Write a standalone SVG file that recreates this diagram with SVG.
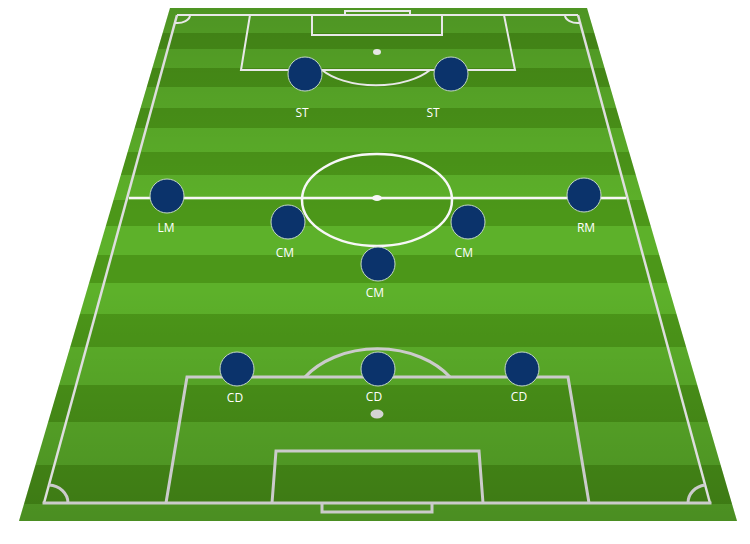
<svg xmlns="http://www.w3.org/2000/svg" width="750" height="544" viewBox="0 0 750 544">
<defs>
<clipPath id="pitchClip"><polygon points="170,8 587,8 737,521 19,521"/></clipPath>
<linearGradient id="shade" x1="0" y1="0" x2="0" y2="1">
<stop offset="0" stop-color="#000" stop-opacity="0.16"/>
<stop offset="0.4" stop-color="#000" stop-opacity="0"/>
<stop offset="0.55" stop-color="#000" stop-opacity="0"/>
<stop offset="1" stop-color="#000" stop-opacity="0.2"/>
</linearGradient>
<style>
.l{fill:#5db12a}
.d{fill:#4c9719}
.ln{fill:none;stroke:#dedede;stroke-width:2.5;stroke-linejoin:miter}
.lt{fill:none;stroke:#e8e8e8;stroke-width:2}
.lm{fill:none;stroke:#f7f7f7;stroke-width:2.5}
.lb{fill:none;stroke:#cbcbcb;stroke-width:3}
.spot{fill:#e6e6e6}
.pl{fill:#0b336b;stroke:#c4d8c4;stroke-width:1}
.lab{font-family:"Open Sans","Liberation Sans",sans-serif;font-size:12px;fill:#ffffff;text-anchor:middle}
</style>
</defs>
<rect width="750" height="544" fill="#ffffff"/>
<g id="pitch">
<g clip-path="url(#pitchClip)">
<rect class="l" x="0" y="8" width="750" height="25"/>
<rect class="d" x="0" y="33" width="750" height="16"/>
<rect class="l" x="0" y="49" width="750" height="19"/>
<rect class="d" x="0" y="68" width="750" height="19"/>
<rect class="l" x="0" y="87" width="750" height="21"/>
<rect class="d" x="0" y="108" width="750" height="20"/>
<rect class="l" x="0" y="128" width="750" height="24"/>
<rect class="d" x="0" y="152" width="750" height="23"/>
<rect class="l" x="0" y="175" width="750" height="25"/>
<rect class="d" x="0" y="200" width="750" height="26"/>
<rect class="l" x="0" y="226" width="750" height="29"/>
<rect class="d" x="0" y="255" width="750" height="28"/>
<rect class="l" x="0" y="283" width="750" height="31"/>
<rect class="d" x="0" y="314" width="750" height="33"/>
<rect class="l" x="0" y="347" width="750" height="38"/>
<rect class="d" x="0" y="385" width="750" height="37"/>
<rect class="l" x="0" y="422" width="750" height="43"/>
<rect class="d" x="0" y="465" width="750" height="39"/>
<rect class="l" x="0" y="504" width="750" height="17"/>
<rect x="0" y="8" width="750" height="513" fill="url(#shade)"/>
</g>
<line class="lt" x1="177" y1="15" x2="578" y2="15"/>
<line class="ln" x1="177" y1="15" x2="44" y2="503"/>
<line class="ln" x1="578" y1="15" x2="710" y2="503"/>
<line class="lb" x1="42.5" y1="503" x2="711.5" y2="503"/>
<polyline class="lt" points="250,15 241,70 515,70 504,15"/>
<polyline class="lt" points="312,15 312,35 442,35 442,15"/>
<polyline class="lt" points="345,15 345,11 410,11 410,15"/>
<path class="lt" d="M322,70 A64,33 0 0 0 430,70"/>
<ellipse class="spot" cx="377" cy="52" rx="4" ry="3"/>
<path class="lt" d="M190,15 A13,8 0 0 1 175,23"/>
<path class="lt" d="M565,15 A13,8 0 0 0 580,23"/>
<line class="lm" x1="129" y1="198" x2="626" y2="198"/>
<ellipse class="lm" cx="377" cy="200" rx="75" ry="46"/>
<ellipse fill="#f7f7f7" cx="377" cy="198" rx="5" ry="3"/>
<polyline class="lb" points="166,503 187,377 568,377 589,503"/>
<polyline class="lb" points="272,503 276,451 479,451 483,503"/>
<polyline class="lb" points="322,503 322,512 432,512 432,503"/>
<path class="lb" d="M305,377 A88,65 0 0 1 450,377"/>
<ellipse fill="#d4d4d4" cx="377" cy="414" rx="6.5" ry="4.5"/>
<path class="lb" d="M49,485 A20,18 0 0 1 68,503"/>
<path class="lb" d="M688,503 A20,18 0 0 1 705,485"/>
</g>
<g id="connectors"></g>
<g id="st-left"><circle class="pl" cx="305" cy="74" r="17"/><text class="lab" x="302" y="117">ST</text></g>
<g id="st-right"><circle class="pl" cx="451" cy="74" r="17"/><text class="lab" x="433" y="117">ST</text></g>
<g id="lm"><circle class="pl" cx="167" cy="196" r="17"/><text class="lab" x="166" y="232">LM</text></g>
<g id="rm"><circle class="pl" cx="584" cy="195" r="17"/><text class="lab" x="586" y="232">RM</text></g>
<g id="cm-left"><circle class="pl" cx="288" cy="222" r="17"/><text class="lab" x="285" y="257">CM</text></g>
<g id="cm-right"><circle class="pl" cx="468" cy="222" r="17"/><text class="lab" x="464" y="257">CM</text></g>
<g id="cm-center"><circle class="pl" cx="378" cy="264" r="17"/><text class="lab" x="375" y="297">CM</text></g>
<g id="cd-left"><circle class="pl" cx="237" cy="369" r="17"/><text class="lab" x="235" y="402">CD</text></g>
<g id="cd-center"><circle class="pl" cx="378" cy="369" r="17"/><text class="lab" x="374" y="401">CD</text></g>
<g id="cd-right"><circle class="pl" cx="522" cy="369" r="17"/><text class="lab" x="519" y="401">CD</text></g>
</svg>
